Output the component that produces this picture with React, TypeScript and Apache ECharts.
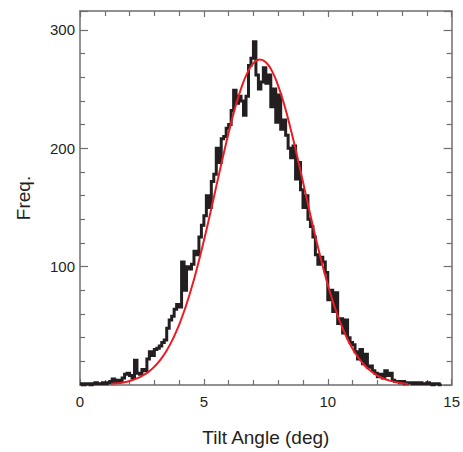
import React, { useEffect, useRef } from "react";
import * as echarts from "echarts";

// Histogram of tilt angles: bins of 0.1 deg starting at 0
const binWidth = 0.1;
const counts = [
  1, 0, 1, 1, 0, 1, 2, 1, 1, 2,
  1, 2, 3, 5, 3, 4, 3, 6, 9, 10,
  8, 6, 21, 10, 9, 13, 12, 22, 28, 25,
  30, 31, 33, 36, 38, 48, 55, 58, 64, 68,
  66, 104, 80, 100, 98, 102, 113, 110, 125, 135,
  143, 160, 150, 172, 178, 200, 188, 208, 210, 217,
  220, 232, 249, 238, 244, 240, 228, 244, 270, 276,
  290, 262, 250, 256, 268, 255, 262, 235, 250, 222,
  245, 216, 224, 211, 200, 192, 202, 174, 188, 165,
  150, 160, 140, 134, 125, 110, 102, 108, 104, 95,
  72, 80, 62, 78, 52, 56, 44, 55, 40, 36,
  34, 28, 22, 30, 18, 26, 15, 16, 12, 10,
  7, 9, 6, 12, 8, 10, 4, 3, 3, 2,
  3, 1, 2, 2, 1, 2, 1, 2, 1, 1,
  2, 1, 0, 1, 1, 0,
];

// Fitted curve
const fitX = [
  1.25, 1.5, 1.75, 2.0, 2.25, 2.5, 2.75, 3.0, 3.25, 3.5, 3.75, 4.0, 4.25, 4.5,
  4.75, 5.0, 5.25, 5.5, 5.75, 6.0, 6.25, 6.5, 6.75, 7.0, 7.25, 7.5, 7.75, 8.0,
  8.25, 8.5, 8.75, 9.0, 9.25, 9.5, 9.75, 10.0, 10.25, 10.5, 10.75, 11.0, 11.25,
  11.5, 11.75, 12.0, 12.25, 12.5, 12.75, 13.0, 13.25,
];
const fitY = [
  0.9, 1.4, 2.2, 3.4, 5.2, 7.6, 10.9, 15.5, 21.5, 29.2, 38.9, 50.9, 65.2, 81.9,
  101, 122, 144.4, 167.8, 191, 213.2, 233.4, 250.4, 263.5, 271.9, 275, 272.7,
  265.2, 252.8, 236.3, 216.6, 194.6, 171.5, 148.1, 125.5, 104.2, 84.8, 67.7,
  53.0, 40.7, 30.6, 22.6, 16.3, 11.6, 8.0, 5.5, 3.7, 2.4, 1.5, 0.9,
];

const xTicks = [0, 5, 10, 15];
const yTicks = [100, 200, 300];

const FONT = "Liberation Sans, Arial, Helvetica, sans-serif";
const AXIS = "#6d6e71";
const TEXT = "#231f20";

export default function App() {
  const ref = useRef<HTMLDivElement>(null);
  useEffect(() => {
    if (!ref.current) return;
    const chart = echarts.init(ref.current, undefined, { renderer: "svg" });
    const hist: number[][] = counts.map((c, i) => [
      Math.round(i * binWidth * 10) / 10,
      c,
    ]);
    hist.push([Math.round(counts.length * binWidth * 10) / 10, counts[counts.length - 1]]);
    const fit = fitX.map((x, i) => [x, fitY[i]]);

    const baseX = {
      type: "value" as const,
      min: 0,
      max: 15,
      interval: 5,
      splitLine: { show: false },
      axisLine: { show: true, onZero: false, lineStyle: { color: AXIS, width: 1.5 } },
      axisTick: { show: true, inside: true, length: 6, lineStyle: { color: AXIS, width: 1.2 } },
      minorTick: { show: true, splitNumber: 5, length: 5, lineStyle: { color: AXIS, width: 1.2 } },
    };
    const baseY = {
      type: "value" as const,
      min: 0,
      max: 316,
      interval: 100,
      splitLine: { show: false },
      axisLine: { show: true, onZero: false, lineStyle: { color: AXIS, width: 1.5 } },
      axisTick: { show: true, inside: true, length: 8, lineStyle: { color: AXIS, width: 1.2 } },
      minorTick: { show: true, splitNumber: 5, length: 5, lineStyle: { color: AXIS, width: 1.2 } },
    };

    chart.setOption({
      animation: false,
      backgroundColor: "#ffffff",
      grid: { left: 80, top: 11, width: 374, height: 374, containLabel: false },
      xAxis: [
        {
          ...baseX,
          position: "bottom",
          name: "Tilt Angle (deg)",
          nameLocation: "middle",
          nameGap: 43,
          nameTextStyle: { fontFamily: FONT, fontSize: 19, color: TEXT },
          axisLabel: {
            fontFamily: FONT,
            fontSize: 15,
            color: TEXT,
            margin: 9,
            formatter: (v: number) => (xTicks.includes(v) ? String(v) : ""),
          },
        },
        { ...baseX, position: "top", axisLabel: { show: false } },
      ],
      yAxis: [
        {
          ...baseY,
          position: "left",
          name: "Freq.",
          nameLocation: "middle",
          nameGap: 47,
          nameRotate: 90,
          nameTextStyle: { fontFamily: FONT, fontSize: 19, color: TEXT },
          axisLabel: {
            fontFamily: FONT,
            fontSize: 15,
            color: TEXT,
            margin: 5,
            formatter: (v: number) => (yTicks.includes(v) ? String(v) : ""),
          },
        },
        { ...baseY, position: "right", axisLabel: { show: false } },
      ],
      series: [
        {
          type: "line",
          xAxisIndex: 0,
          yAxisIndex: 0,
          data: hist,
          step: "end",
          showSymbol: false,
          symbol: "none",
          lineStyle: { color: "#231f20", width: 3, join: "miter" },
          z: 2,
        },
        {
          type: "line",
          xAxisIndex: 0,
          yAxisIndex: 0,
          data: fit,
          smooth: true,
          showSymbol: false,
          symbol: "none",
          lineStyle: { color: "#ed1c24", width: 2 },
          z: 3,
        },
      ],
    });
    return () => chart.dispose();
  }, []);
  return (
    <div
      ref={ref}
      style={{ position: "absolute", left: 0, top: 0, width: 463, height: 452 }}
    />
  );
}
